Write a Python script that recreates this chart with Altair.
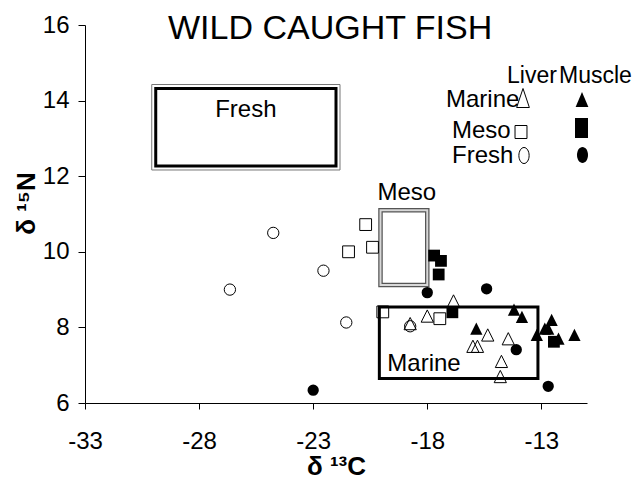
import altair as alt
import pandas as pd

FONT = "Liberation Sans"

# ---- data (delta13C, delta15N) ----
marine_liver_x = [-16.85, -18.0, -18.75, -15.35, -16.0, -15.8, -14.45, -14.75, -14.8]
marine_liver_y = [8.7, 8.3, 8.1, 7.8, 7.5, 7.5, 7.7, 7.1, 6.7]
marine_muscle_x = [-14.2, -13.85, -15.85, -13.2, -12.85, -12.55, -12.7, -12.25, -11.55]
marine_muscle_y = [8.47, 8.28, 7.97, 7.8, 7.97, 8.2, 7.97, 7.7, 7.8]
meso_liver_x = [-21.45, -20.7, -20.4, -19.95, -17.45]
meso_liver_y = [10.0, 10.72, 10.12, 8.41, 8.23]
meso_muscle_x = [-17.7, -17.4, -17.5, -16.9, -12.45]
meso_muscle_y = [9.9, 9.76, 9.4, 8.4, 7.62]
fresh_liver_x = [-26.65, -24.75, -22.55, -21.55, -18.75]
fresh_liver_y = [9.0, 10.5, 9.5, 8.13, 8.03]
fresh_muscle_x = [-18.0, -15.4, -14.1, -12.7, -23.0]
fresh_muscle_y = [8.92, 9.02, 7.41, 6.44, 6.34]

box_name = ["Fresh", "Meso", "Marine"]
box_x1 = [-29.9, -20.05, -20.1]
box_x2 = [-22.0, -18.0, -13.15]
box_y1 = [12.27, 9.12, 6.65]
box_y2 = [14.32, 11.1, 8.54]

x_ticks = [-33, -28, -23, -18, -13]
y_ticks = [6, 8, 10, 12, 14, 16]

rows = []
for hab, tis, xs_, ys_ in [
    ("Marine", "Liver", marine_liver_x, marine_liver_y),
    ("Marine", "Muscle", marine_muscle_x, marine_muscle_y),
    ("Meso", "Liver", meso_liver_x, meso_liver_y),
    ("Meso", "Muscle", meso_muscle_x, meso_muscle_y),
    ("Fresh", "Liver", fresh_liver_x, fresh_liver_y),
    ("Fresh", "Muscle", fresh_muscle_x, fresh_muscle_y),
]:
    for x, y in zip(xs_, ys_):
        rows.append({"x": x, "y": y, "habitat": hab, "tissue": tis})
df = pd.DataFrame(rows)
boxes = pd.DataFrame({"name": box_name, "x1": box_x1, "x2": box_x2, "y1": box_y1, "y2": box_y2})

W, H = 502, 378
OX, OY = 85, 25  # plot origin on page (for legend placement)

xs = alt.Scale(domain=[-33, -11], nice=False, zero=False)
ys = alt.Scale(domain=[6, 16], nice=False, zero=False)

X = alt.X("x:Q", scale=xs, axis=alt.Axis(
    values=x_ticks, grid=False, tickSize=6, labelFontSize=24, labelFont=FONT,
    labelPadding=20, labelFlush=False, labelOverlap=False,
    labelExpr="'' + datum.value",
    title="δ ¹³C", titleFont=FONT, titleFontSize=26, titleFontWeight="bold",
    titleY=71, titleBaseline="alphabetic"))
Y = alt.Y("y:Q", scale=ys, axis=alt.Axis(
    values=y_ticks, grid=False, tickSize=7, labelFontSize=24, labelFont=FONT,
    labelPadding=9, labelFlush=False, labelOverlap=False,
    labelExpr="'' + datum.value",
    title="δ ¹⁵N", titleFont=FONT, titleFontSize=26, titleFontWeight="bold",
    titleAngle=270, titleX=-51, titleY=178, titleAlign="center", titleBaseline="alphabetic"))

def box_layer(name, stroke, width, off=0):
    return alt.Chart(boxes[boxes["name"] == name]).mark_rect(
        fillOpacity=0, stroke=stroke, strokeWidth=width,
        xOffset=-off, x2Offset=off, yOffset=off, y2Offset=-off
    ).encode(x=alt.X("x1:Q", scale=xs), x2="x2", y=alt.Y("y1:Q", scale=ys), y2="y2")

tri = "M0,-1L1,1L-1,1Z"
shape_scale = alt.Scale(domain=["Marine", "Meso", "Fresh"], range=[tri, "square", "circle"])

liver = alt.Chart(df[df["tissue"] == "Liver"]).mark_point(
    filled=False, stroke="black", strokeWidth=1, opacity=1
).encode(
    x=X, y=Y,
    shape=alt.Shape("habitat:N", scale=shape_scale, legend=None),
    size=alt.Size("habitat:N", scale=alt.Scale(domain=["Marine", "Meso", "Fresh"], range=[150, 128, 121]), legend=None),
)
muscle = alt.Chart(df[df["tissue"] == "Muscle"]).mark_point(
    filled=True, color="black", opacity=1, strokeWidth=0
).encode(
    x=X, y=Y,
    shape=alt.Shape("habitat:N", scale=shape_scale, legend=None),
    size=alt.Size("habitat:N", scale=alt.Scale(domain=["Marine", "Meso", "Fresh"], range=[144, 110, 137]), legend=None),
)

def box_label(name, col_x, col_y, align, dx, dy):
    b = boxes[boxes["name"] == name].copy()
    return alt.Chart(b).mark_text(
        align=align, baseline="alphabetic", dx=dx, dy=dy, fontSize=24, font=FONT, color="black"
    ).encode(x=alt.X(f"{col_x}:Q", scale=xs), y=alt.Y(f"{col_y}:Q", scale=ys), text="name:N")

boxes_mid = boxes.copy()
boxes_mid["xm"] = (boxes_mid["x1"] + boxes_mid["x2"]) / 2
fresh_label = alt.Chart(boxes_mid[boxes_mid["name"] == "Fresh"]).mark_text(
    align="center", baseline="alphabetic", dy=28, fontSize=24, font=FONT, color="black"
).encode(x=alt.X("xm:Q", scale=xs), y=alt.Y("y2:Q", scale=ys), text="name:N")
meso_label = box_label("Meso", "x1", "y2", "left", -3, -10)
marine_label = box_label("Marine", "x1", "y1", "left", 8, -7)

def page_text(label, px, py, size=24, align="left"):
    return alt.Chart(pd.DataFrame({"t": [label]})).mark_text(
        align=align, baseline="alphabetic", fontSize=size, font=FONT, color="black"
    ).encode(text="t:N", x=alt.value(px - OX), y=alt.value(py - OY))

def page_symbol(shape, size, filled, px, py):
    kw = dict(shape=shape, size=size, opacity=1)
    if filled:
        kw.update(filled=True, color="black", strokeWidth=0)
    else:
        kw.update(filled=False, stroke="black", strokeWidth=1)
    return alt.Chart(pd.DataFrame({"t": [0]})).mark_point(**kw).encode(
        x=alt.value(px - OX), y=alt.value(py - OY))

title = page_text("WILD CAUGHT FISH", 168, 39, size=34)

legend = [
    page_text("Liver", 507, 83, size=23),
    page_text("Muscle", 559, 83, size=23),
    page_text("Marine", 446, 107, size=24),
    page_text("Meso", 452, 138, size=24),
    page_text("Fresh", 452, 163, size=24),
    page_symbol("M0,-1L0.67,1L-0.67,1Z", 361, False, 523, 98),
    page_symbol("M0,-1L0.85,1L-0.85,1Z", 225, True, 582, 99.5),
    page_symbol("M-0.92,-1L0.92,-1L0.92,1L-0.92,1Z", 169, False, 521, 132),
    page_symbol("M-0.65,-1L0.65,-1L0.65,1L-0.65,1Z", 400, True, 581.5, 128),
    page_symbol("M0,-1A0.64,1 0 1 1 0,1A0.64,1 0 1 1 0,-1Z", 256, False, 524, 155.5),
    page_symbol("M0,-1A0.69,1 0 1 1 0,1A0.69,1 0 1 1 0,-1Z", 256, True, 582.5, 155),
]

chart = alt.layer(
    box_layer("Fresh", "#777777", 1, off=4),
    box_layer("Fresh", "black", 3),
    box_layer("Meso", "#555555", 4.5),
    box_layer("Meso", "#d8d8d8", 2),
    box_layer("Marine", "black", 3),
    liver, muscle,
    fresh_label, meso_label, marine_label,
    title, *legend,
).properties(
    width=W, height=H,
    padding={"left": 77, "top": 17, "right": 46, "bottom": 77},
    autosize=alt.AutoSizeParams(type="none"),
).configure_view(stroke=None).configure_axis(
    domainColor="black", tickColor="black", labelColor="black", titleColor="black"
)

chart.save("out.html", embed_options={"renderer": "svg", "actions": False})
